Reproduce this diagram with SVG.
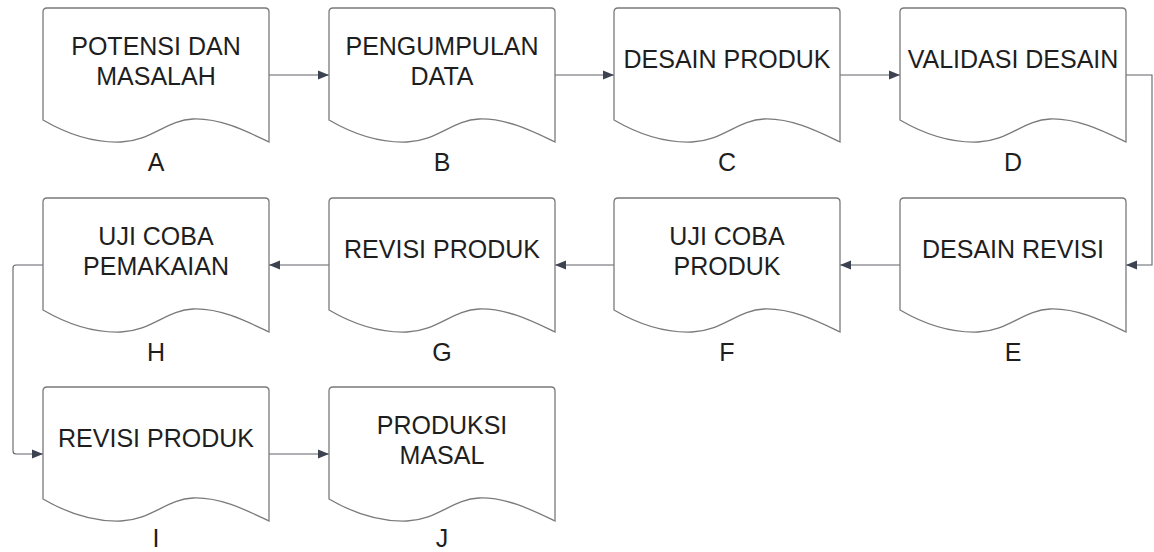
<svg xmlns="http://www.w3.org/2000/svg" width="1154" height="552" viewBox="0 0 1154 552">
<style>
.doc{fill:#fff;stroke:#7a7a7a;stroke-width:1.3}
.t{font-family:"Liberation Sans",Arial,sans-serif;font-size:25px;fill:#1e1e1e;text-anchor:middle}
.lb{font-family:"Liberation Sans",Arial,sans-serif;font-size:25px;fill:#1e1e1e;text-anchor:middle}
.c{fill:none;stroke:#5f6368;stroke-width:1.1}
</style>
<defs>
<path id="docshape" d="M0,4 Q0,0 4,0 H222 Q226,0 226,4 V134 C205,124 178,110 150,111 C124,112 108,133 78,134 C50,135 24,126 0,112 Z"/>
<marker id="ah" viewBox="0 0 10 10" refX="10" refY="5" markerWidth="11" markerHeight="11" markerUnits="userSpaceOnUse" orient="auto">
<path d="M0,1 L10,5 L0,9 Z" fill="#3c4250"/>
</marker>
</defs>
<rect width="1154" height="552" fill="#fff"/>
<g id="connectors">
<path class="c" d="M269,75 H329" marker-end="url(#ah)"/>
<path class="c" d="M555,75 H614" marker-end="url(#ah)"/>
<path class="c" d="M840,75 H900" marker-end="url(#ah)"/>
<path class="c" d="M1126,75 H1152 V265 H1126" marker-end="url(#ah)"/>
<path class="c" d="M900,265 H840" marker-end="url(#ah)"/>
<path class="c" d="M614,265 H555" marker-end="url(#ah)"/>
<path class="c" d="M329,265 H269" marker-end="url(#ah)"/>
<path class="c" d="M43,265 H16 Q13,265 13,268 V451 Q13,454 16,454 H43" marker-end="url(#ah)"/>
<path class="c" d="M269,454 H329" marker-end="url(#ah)"/>
</g>
<g id="nodeA" transform="translate(43,8)"><use href="#docshape" class="doc"/><text class="t" x="113" y="47">POTENSI DAN</text><text class="t" x="113" y="77">MASALAH</text><text class="lb" x="113" y="163">A</text></g>
<g id="nodeB" transform="translate(329,8)"><use href="#docshape" class="doc"/><text class="t" x="113" y="47">PENGUMPULAN</text><text class="t" x="113" y="77">DATA</text><text class="lb" x="113" y="163">B</text></g>
<g id="nodeC" transform="translate(614,8)"><use href="#docshape" class="doc"/><text class="t" x="113" y="60">DESAIN PRODUK</text><text class="lb" x="113" y="163">C</text></g>
<g id="nodeD" transform="translate(900,8)"><use href="#docshape" class="doc"/><text class="t" x="113" y="60">VALIDASI DESAIN</text><text class="lb" x="113" y="163">D</text></g>
<g id="nodeE" transform="translate(900,198)"><use href="#docshape" class="doc"/><text class="t" x="113" y="60">DESAIN REVISI</text><text class="lb" x="113" y="163">E</text></g>
<g id="nodeF" transform="translate(614,198)"><use href="#docshape" class="doc"/><text class="t" x="113" y="47">UJI COBA</text><text class="t" x="113" y="77">PRODUK</text><text class="lb" x="113" y="163">F</text></g>
<g id="nodeG" transform="translate(329,198)"><use href="#docshape" class="doc"/><text class="t" x="113" y="60">REVISI PRODUK</text><text class="lb" x="113" y="163">G</text></g>
<g id="nodeH" transform="translate(43,198)"><use href="#docshape" class="doc"/><text class="t" x="113" y="47">UJI COBA</text><text class="t" x="113" y="77">PEMAKAIAN</text><text class="lb" x="113" y="163">H</text></g>
<g id="nodeI" transform="translate(43,387)"><use href="#docshape" class="doc"/><text class="t" x="113" y="60">REVISI PRODUK</text><text class="lb" x="113" y="160">I</text></g>
<g id="nodeJ" transform="translate(329,387)"><use href="#docshape" class="doc"/><text class="t" x="113" y="47">PRODUKSI</text><text class="t" x="113" y="77">MASAL</text><text class="lb" x="113" y="160">J</text></g>
</svg>
